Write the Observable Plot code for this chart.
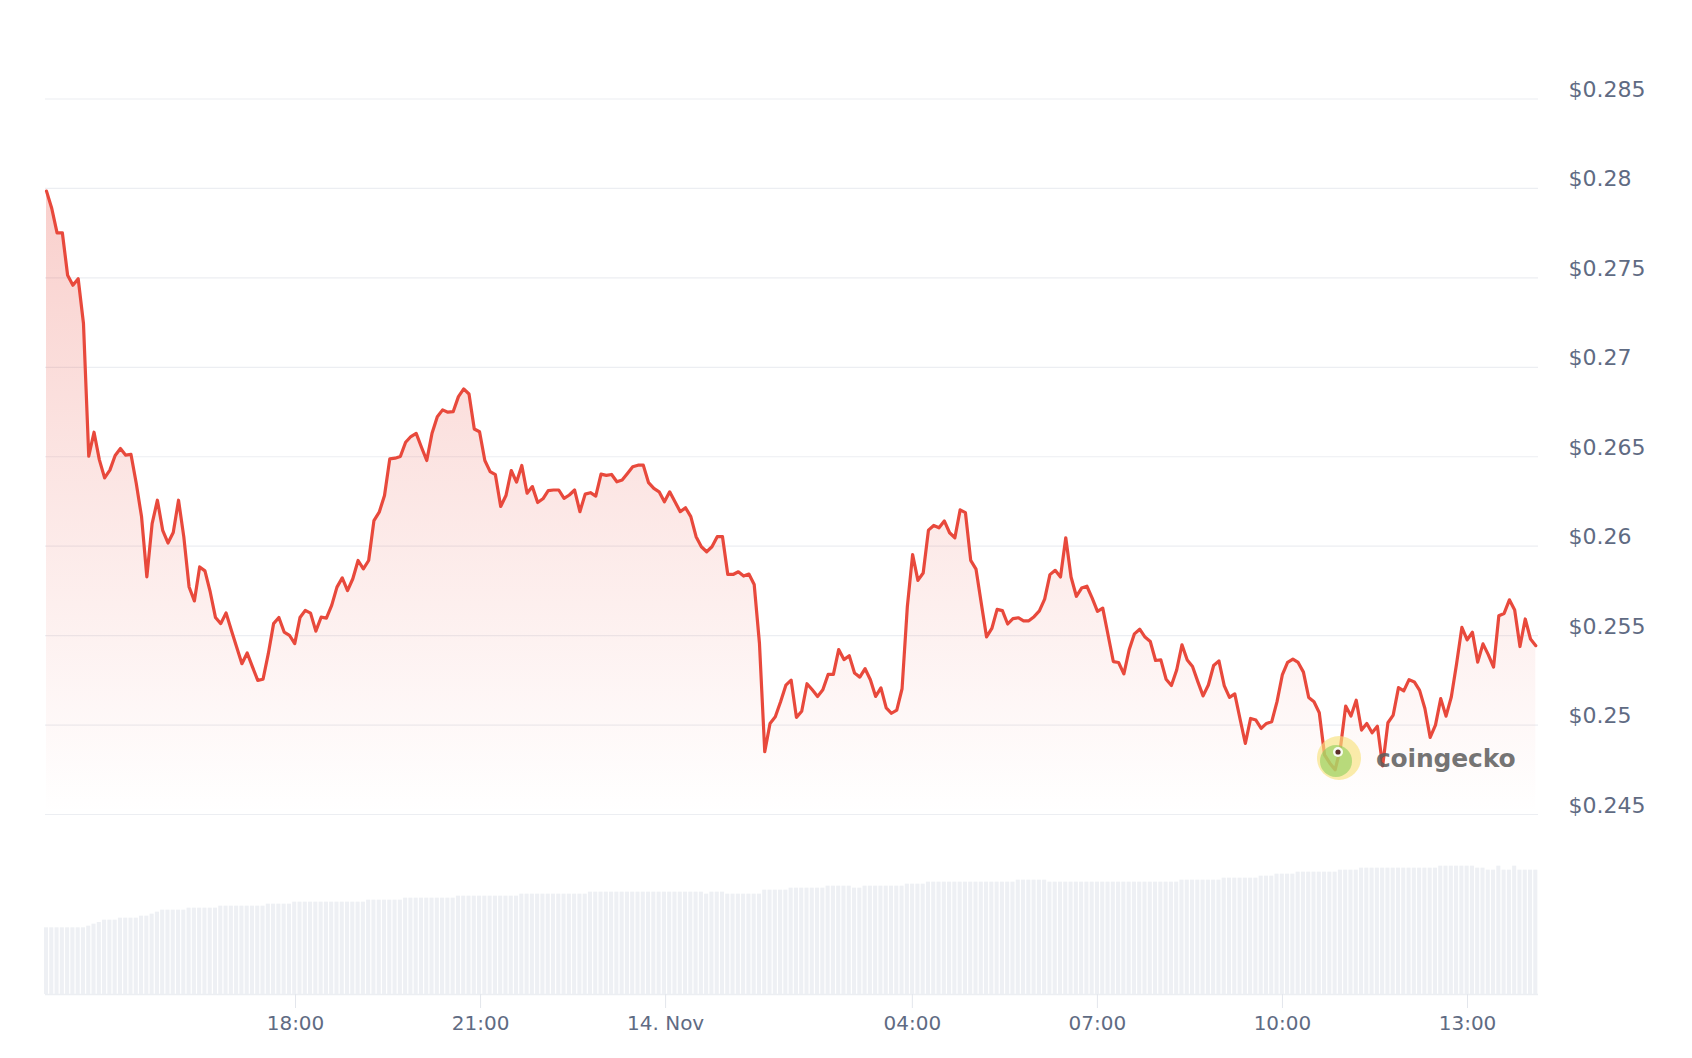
<!DOCTYPE html>
<html>
<head>
<meta charset="utf-8">
<script src="https://cdn.jsdelivr.net/npm/d3@7"></script>
<script src="https://cdn.jsdelivr.net/npm/@observablehq/plot@0.6"></script>
<style>
  html, body { margin: 0; padding: 0; background: #ffffff; }
  #wrap { position: relative; width: 1692px; height: 1058px; overflow: hidden; background: #fff; }
  #price { position: absolute; left: 0; top: 0; }
  #vol { position: absolute; left: 0; top: 830px; }
  #wm { position: absolute; left: 1316px; top: 735px; display: flex; align-items: center; pointer-events: none; }
  #wm span { font-family: "DejaVu Sans", sans-serif; font-weight: bold; font-size: 25px; color: rgba(92,92,92,0.85); margin-left: 14px; letter-spacing: -0.2px; }
</style>
</head>
<body>
<div id="wrap">
  <div id="price"></div>
  <div id="vol"></div>
  <div id="wm">
    <svg width="46" height="46" viewBox="0 0 46 46">
      <circle cx="23" cy="23" r="22" fill="#f7e27e" fill-opacity="0.65"></circle>
      <circle cx="20" cy="26" r="16" fill="#8ccf5c" fill-opacity="0.6"></circle>
      <circle cx="22" cy="17" r="5" fill="#ffffff" fill-opacity="0.9"></circle>
      <circle cx="22" cy="17" r="2.6" fill="#5b2e2a"></circle>
    </svg>
    <span>coingecko</span>
  </div>
</div>
<script>
// ---- data ----
const startTime = Date.UTC(2024, 10, 13, 13, 57, 48);
const endTime = Date.UTC(2024, 10, 14, 14, 6, 26);

const priceValues = [
  0.27985, 0.27888, 0.27752, 0.27752, 0.27515, 0.27459, 0.27495, 0.27245, 0.26503, 0.26637,
  0.26484, 0.26382, 0.26425, 0.26507, 0.26546, 0.26509, 0.26513, 0.26350, 0.26164, 0.25828,
  0.26126, 0.26257, 0.26089, 0.26018, 0.26076, 0.26257, 0.26052, 0.25772, 0.25694, 0.25884,
  0.25862, 0.25744, 0.25601, 0.25567, 0.25627, 0.25530, 0.25436, 0.25343, 0.25403, 0.25325,
  0.25250, 0.25256, 0.25399, 0.25567, 0.25601, 0.25520, 0.25502, 0.25455, 0.25601, 0.25641,
  0.25626, 0.25525, 0.25603, 0.25598, 0.25669, 0.25771, 0.25823, 0.25752, 0.25818, 0.25920,
  0.25873, 0.25920, 0.26143, 0.26190, 0.26283, 0.26488, 0.26492, 0.26501, 0.26581, 0.26613,
  0.26631, 0.26553, 0.26479, 0.26631, 0.26724, 0.26762, 0.26749, 0.26752, 0.26836, 0.26879,
  0.26851, 0.26655, 0.26640, 0.26479, 0.26417, 0.26400, 0.26222, 0.26283, 0.26423, 0.26358,
  0.26451, 0.26296, 0.26333, 0.26244, 0.26265, 0.26311, 0.26314, 0.26314, 0.26267, 0.26286,
  0.26314, 0.26193, 0.26291, 0.26299, 0.26280, 0.26403, 0.26396, 0.26401, 0.26360, 0.26370,
  0.26407, 0.26444, 0.26453, 0.26453, 0.26355, 0.26323, 0.26304, 0.26248, 0.26304, 0.26248,
  0.26193, 0.26215, 0.26165, 0.26053, 0.25997, 0.25969, 0.25997, 0.26053, 0.26053, 0.25842,
  0.25842, 0.25857, 0.25833, 0.25844, 0.25786, 0.25456, 0.24851, 0.25009, 0.25046, 0.25130,
  0.25223, 0.25251, 0.25043, 0.25077, 0.25231, 0.25197, 0.25160, 0.25197, 0.25283, 0.25283,
  0.25422, 0.25366, 0.25388, 0.25291, 0.25268, 0.25315, 0.25253, 0.25160, 0.25208, 0.25096,
  0.25066, 0.25084, 0.25203, 0.25662, 0.25953, 0.25809, 0.25850, 0.26090, 0.26116, 0.26103,
  0.26141, 0.26075, 0.26047, 0.26203, 0.26188, 0.25921, 0.25872, 0.25681, 0.25493, 0.25540,
  0.25647, 0.25640, 0.25565, 0.25595, 0.25600, 0.25583, 0.25583, 0.25606, 0.25638, 0.25704,
  0.25841, 0.25865, 0.25828, 0.26047, 0.25828, 0.25720, 0.25766, 0.25776, 0.25710, 0.25636,
  0.25654, 0.25505, 0.25355, 0.25350, 0.25286, 0.25421, 0.25510, 0.25536, 0.25492, 0.25467,
  0.25361, 0.25364, 0.25256, 0.25221, 0.25308, 0.25449, 0.25364, 0.25327, 0.25243, 0.25163,
  0.25224, 0.25333, 0.25359, 0.25221, 0.25155, 0.25174, 0.25034, 0.24897, 0.25037, 0.25028,
  0.24981, 0.25009, 0.25019, 0.25131, 0.25280, 0.25350, 0.25368, 0.25350, 0.25296, 0.25154,
  0.25130, 0.25069, 0.24833, 0.24787, 0.24750, 0.24870, 0.25106, 0.25050, 0.25139, 0.24972,
  0.25009, 0.24957, 0.24994, 0.24772, 0.25013, 0.25056, 0.25209, 0.25191, 0.25254, 0.25241,
  0.25194, 0.25093, 0.24931, 0.25000, 0.25148, 0.25050, 0.25157, 0.25343, 0.25546, 0.25476,
  0.25519, 0.25352, 0.25454, 0.25394, 0.25324, 0.25611, 0.25624, 0.25700, 0.25643, 0.25439,
  0.25593, 0.25481, 0.25444
];

// relative 24h volume (no axis shown in the reference)
const volumeValues = [
  200, 200, 200, 200, 200, 200, 200, 200, 205, 211,
  216, 223, 223, 223, 229, 229, 229, 229, 235, 235,
  241, 247, 253, 253, 253, 253, 253, 259, 259, 259,
  259, 259, 259, 265, 265, 265, 265, 265, 265, 265,
  265, 265, 271, 271, 271, 271, 271, 277, 277, 277,
  277, 277, 277, 277, 277, 277, 277, 277, 277, 277,
  277, 283, 283, 283, 283, 283, 283, 283, 289, 289,
  289, 289, 289, 289, 289, 289, 289, 289, 295, 295,
  295, 295, 295, 295, 295, 295, 295, 295, 295, 295,
  301, 301, 301, 301, 301, 301, 301, 301, 301, 301,
  301, 301, 301, 307, 307, 307, 307, 307, 307, 307,
  307, 307, 307, 307, 307, 307, 307, 307, 307, 307,
  307, 307, 307, 307, 307, 301, 307, 307, 307, 301,
  301, 301, 301, 301, 301, 301, 313, 313, 313, 313,
  313, 319, 319, 319, 319, 319, 319, 319, 325, 325,
  325, 325, 325, 319, 319, 325, 325, 325, 325, 325,
  325, 325, 325, 331, 331, 331, 331, 337, 337, 337,
  337, 337, 337, 337, 337, 337, 337, 337, 337, 337,
  337, 337, 337, 337, 343, 343, 343, 343, 343, 343,
  337, 337, 337, 337, 337, 337, 337, 337, 337, 337,
  337, 337, 337, 337, 337, 337, 337, 337, 337, 337,
  337, 337, 337, 337, 337, 343, 343, 343, 343, 343,
  343, 343, 343, 349, 349, 349, 349, 349, 349, 349,
  355, 355, 355, 361, 361, 361, 361, 367, 367, 367,
  367, 367, 367, 367, 367, 373, 373, 373, 373, 379,
  379, 379, 379, 379, 379, 379, 379, 379, 379, 379,
  379, 379, 379, 379, 385, 385, 385, 385, 385, 385,
  385, 379, 379, 373, 373, 385, 373, 373, 385, 373,
  373, 373, 373
];

const priceTicks = [0.245, 0.25, 0.255, 0.26, 0.265, 0.27, 0.275, 0.28, 0.285];
const tickTimes = [
  Date.UTC(2024, 10, 13, 18), Date.UTC(2024, 10, 13, 21), Date.UTC(2024, 10, 14, 0),
  Date.UTC(2024, 10, 14, 4), Date.UTC(2024, 10, 14, 7), Date.UTC(2024, 10, 14, 10),
  Date.UTC(2024, 10, 14, 13)
];
const tickLabels = ["18:00", "21:00", "14. Nov", "04:00", "07:00", "10:00", "13:00"];

// ---- build table ----
const n = priceValues.length;
const step = (endTime - startTime) / (n - 1);
const rows = priceValues.map((p, i) => ({
  t: new Date(startTime + i * step),
  p,
  v: volumeValues[i]
}));
const labelByTime = new Map(tickTimes.map((t, i) => [t, tickLabels[i]]));
const tickDates = tickTimes.map(t => new Date(t));

const W = 1692;
const lineColor = "#e8493c";
const textColor = "#5f6b83";

const priceChart = Plot.plot({
  width: W,
  height: 830,
  marginLeft: 45,
  marginRight: 154,
  marginTop: 98.5,
  marginBottom: 16,
  x: { type: "time", domain: [new Date(startTime), new Date(endTime)], insetLeft: 1, insetRight: 2.7, axis: null },
  y: { domain: [0.245, 0.285], label: null },
  style: { fontFamily: "'DejaVu Sans', sans-serif", fontSize: "22px", color: textColor, background: "#ffffff", overflow: "visible" },
  marks: [
    Plot.gridY(priceTicks, { stroke: "#eceef2", strokeOpacity: 1, strokeWidth: 1.2 }),
    Plot.areaY(rows, { x: "t", y1: () => 0.245, y2: "p", fill: "url(#priceGrad)" }),
    Plot.lineY(rows, { x: "t", y: "p", stroke: lineColor, strokeWidth: 3.2, strokeLinejoin: "round", strokeLinecap: "round" }),
    Plot.axisY(priceTicks, {
      anchor: "right", label: null, tickSize: 0, tickPadding: 30, dy: -9, fontSize: 22,
      tickFormat: d => "$" + (+d.toFixed(3))
    })
  ]
});

const defs = d3.select(priceChart).insert("defs", ":first-child");
const grad = defs.append("linearGradient").attr("id", "priceGrad")
  .attr("x1", 0).attr("y1", 0).attr("x2", 0).attr("y2", 1);
grad.append("stop").attr("offset", "0%").attr("stop-color", lineColor).attr("stop-opacity", 0.26);
grad.append("stop").attr("offset", "100%").attr("stop-color", lineColor).attr("stop-opacity", 0.0);

document.getElementById("price").appendChild(priceChart);

const volChart = Plot.plot({
  width: W,
  height: 228,
  marginLeft: 45,
  marginRight: 154,
  marginTop: 30.67,
  marginBottom: 64,
  x: { type: "time", domain: [new Date(startTime), new Date(endTime)], insetLeft: 1, insetRight: 2.7, label: null },
  y: { domain: [0, 400], axis: null },
  style: { fontFamily: "'DejaVu Sans', sans-serif", fontSize: "20px", color: textColor, background: "#ffffff" },
  marks: [
    Plot.rectY(rows, {
      x1: d => new Date(+d.t - step / 2),
      x2: d => new Date(+d.t + step / 2),
      y: "v",
      fill: "#eef0f4",
      insetLeft: 0.6,
      insetRight: 0.6
    }),
    Plot.ruleY([0], { stroke: "#eceef2", strokeWidth: 1.5 }),
    Plot.axisX(tickDates, {
      label: null, tickSize: 14, tickPadding: 7, stroke: "#e3e6ec", fill: textColor, fontSize: 20,
      tickFormat: d => labelByTime.get(+d)
    })
  ]
});
document.getElementById("vol").appendChild(volChart);
</script>
</body>
</html>
